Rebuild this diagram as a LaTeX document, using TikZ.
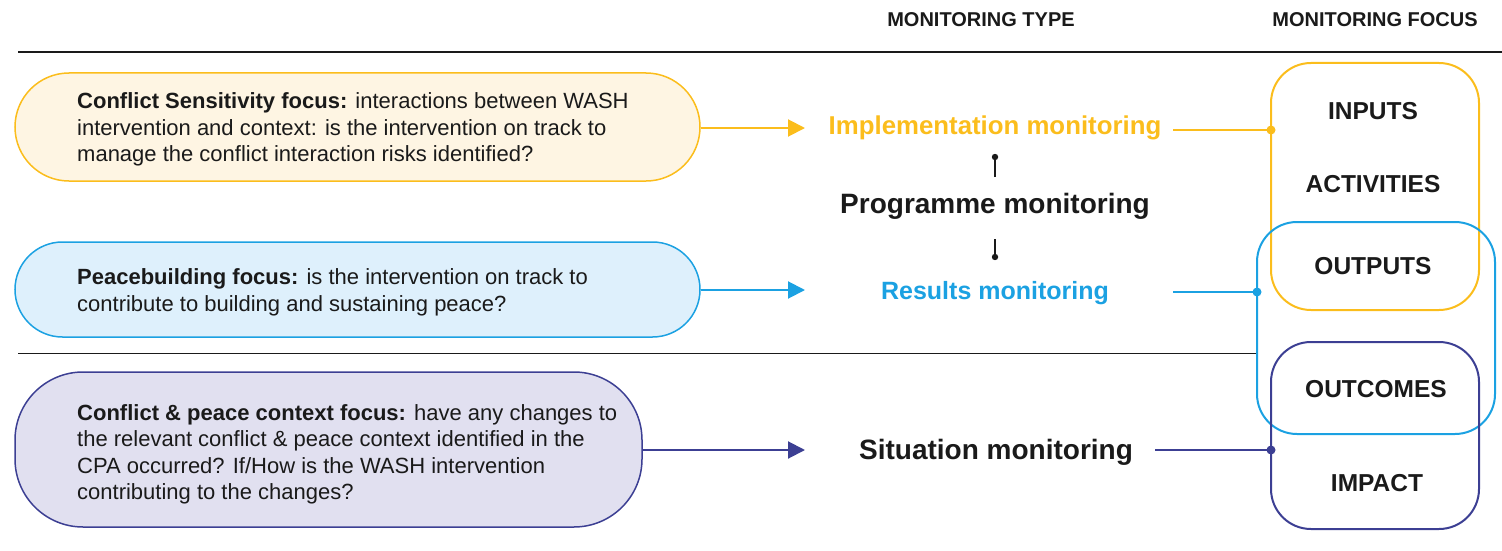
\documentclass[tikz,border=0pt]{standalone}
\usepackage{fontspec}
\setmainfont{Liberation Sans}
\usetikzlibrary{arrows.meta}
\definecolor{cyel}{HTML}{FBBD1C}
\definecolor{cyelf}{HTML}{FEF5E3}
\definecolor{cblu}{HTML}{1BA1E2}
\definecolor{cbluf}{HTML}{DEF0FC}
\definecolor{cpur}{HTML}{3C3F93}
\definecolor{cpurf}{HTML}{E1E0F0}
\definecolor{ink}{HTML}{1A1A1A}
\tikzset{
  pill/.style={draw, line width=1.5pt, inner sep=0pt},
  body/.style={font=\fontsize{22}{26.5}\selectfont, align=left, anchor=west, inner sep=0pt, text=ink},
  mtype/.style={font=\bfseries\fontsize{25}{30}\selectfont, inner sep=0pt},
  mtypebig/.style={font=\bfseries\fontsize{28}{32}\selectfont, inner sep=0pt},
  focusbox/.style={draw, line width=2pt, rounded corners=40pt, inner sep=0pt},
  focuslabel/.style={font=\bfseries\fontsize{24.5}{28}\selectfont, text=ink, inner sep=0pt},
  head/.style={font=\bfseries\fontsize{20}{24}\selectfont, text=ink, inner sep=0pt},
  arr/.style={line width=2pt, -{Triangle[length=17pt,width=17pt]}},
  conn/.style={line width=1.8pt},
  rule/.style={draw=ink, line width=1.2pt}
}
\begin{document}
\begin{tikzpicture}[x=1pt,y=-1pt]
\useasboundingbox (0,0) rectangle (1502,551);

% headers
\node[head] (htype) at (981,20) {MONITORING TYPE};
\node[head] (hfocus) at (1375,20) {MONITORING FOCUS};

% rules
\coordinate (r1a) at (18,52);
\coordinate (r1b) at (1502,52);
\coordinate (r2a) at (18,353);
\coordinate (r2b) at (1257,353);
\draw[rule] (r1a) -- (r1b);
\draw[rule, line width=1pt] (r2a) -- (r2b);

% left focus boxes
\node[pill, draw=cyel, fill=cyelf, minimum width=685pt, minimum height=108pt, rounded corners=54pt] (csbox) at (357.5,127) {};
\node[body] (cstext) at (77,129.5) {\textbf{Conflict Sensitivity focus:} interactions between WASH\\intervention and context: is the intervention on track to\\manage the conflict interaction risks identified?};

\node[pill, draw=cblu, fill=cbluf, minimum width=685pt, minimum height=95pt, rounded corners=47.5pt] (pbbox) at (357.5,289.5) {};
\node[body] (pbtext) at (77,292.5) {\textbf{Peacebuilding focus:} is the intervention on track to\\contribute to building and sustaining peace?};

\node[pill, draw=cpur, fill=cpurf, minimum width=627pt, minimum height=155pt, rounded corners=68pt] (cpbox) at (328.5,449.5) {};
\node[body] (cptext) at (77,454.5) {\textbf{Conflict \& peace context focus:} have any changes to\\the relevant conflict \& peace context identified in the\\CPA occurred? If/How is the WASH intervention\\contributing to the changes?};

% monitoring types
\node[mtype, text=cyel, font=\bfseries\fontsize{25.8}{30}\selectfont] (imp) at (995,128) {Implementation monitoring};
\node[mtypebig, text=ink] (prog) at (995,206) {Programme monitoring};
\node[mtype, text=cblu] (res) at (995,293) {Results monitoring};
\node[mtypebig, text=ink] (sit) at (996,452) {Situation monitoring};

% arrows into monitoring types
\coordinate (impin) at (805,128);
\coordinate (resin) at (805,290);
\coordinate (sitin) at (805,450);
\draw[arr, cyel] (csbox.east |- impin) -- (impin);
\draw[arr, cblu] (pbbox.east |- resin) -- (resin);
\draw[arr, cpur] (cpbox.east |- sitin) -- (sitin);

% programme links
\coordinate (pup) at (995,157);
\coordinate (pupS) at (995,177);
\coordinate (pdn) at (995,257);
\coordinate (pdnS) at (995,239);
\draw[line width=1.2pt, ink] (pupS) -- (pup);
\fill[ink] (pup) circle (3.2);
\draw[line width=1.2pt, ink] (pdnS) -- (pdn);
\fill[ink] (pdn) circle (3.2);

% right focus boxes
\node[focusbox, draw=cyel, minimum width=208pt, minimum height=247pt] (ybox) at (1375,186.5) {};
\node[focusbox, draw=cblu, minimum width=238pt, minimum height=212pt] (bbox) at (1376,328) {};
\node[focusbox, draw=cpur, minimum width=208pt, minimum height=187pt] (pbox) at (1375,435.5) {};

\node[focuslabel] (inputs) at (1373,111) {INPUTS};
\node[focuslabel] (activities) at (1373,184) {ACTIVITIES};
\node[focuslabel] (outputs) at (1373,266) {OUTPUTS};
\node[focuslabel] (outcomes) at (1376,389) {OUTCOMES};
\node[focuslabel] (impact) at (1377,483) {IMPACT};

% connectors to focus boxes
\coordinate (iout) at (1173,130);
\coordinate (iend) at (1271,130);
\coordinate (rout) at (1173,292);
\coordinate (rend) at (1257,292);
\coordinate (sout) at (1155,450);
\coordinate (send) at (1271,450);
\draw[conn, cyel] (iout) -- (iend);
\fill[cyel] (iend) circle (4.5);
\draw[conn, cblu] (rout) -- (rend);
\fill[cblu] (rend) circle (4.5);
\draw[conn, cpur] (sout) -- (send);
\fill[cpur] (send) circle (4.5);
\end{tikzpicture}
\end{document}
